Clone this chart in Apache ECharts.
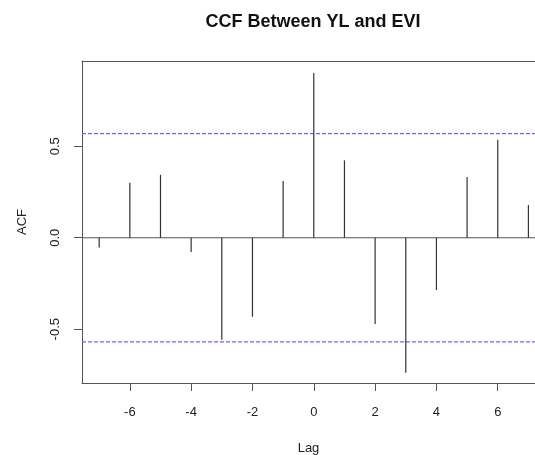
<!DOCTYPE html>
<html>
<head>
<meta charset="utf-8">
<script src="https://cdn.jsdelivr.net/npm/echarts@6/dist/echarts.min.js"></script>
<style>
  html, body { margin: 0; padding: 0; background: #fff; }
  #chart { width: 535px; height: 455px; }
</style>
</head>
<body>
<div id="chart"></div>
<script>
  // lags and cross-correlation values
  var lags = [-7, -6, -5, -4, -3, -2, -1, 0, 1, 2, 3, 4, 5, 6, 7];
  var ccfValues = [-0.053, 0.30, 0.344, -0.078, -0.557, -0.432, 0.31, 0.90, 0.423, -0.472, -0.738, -0.286, 0.332, 0.536, 0.179];
  var confLimits = [0.569, -0.569];
  var xTicks = [-6, -4, -2, 0, 2, 4, 6];
  var yTicks = [-0.5, 0, 0.5];
  var xRange = [-7.56, 7.215]; // box is cut off on the right in the original
  var yRange = [-0.794, 0.966];

  var font = 'Liberation Sans, Arial, sans-serif';
  var axisColor = '#555';
  var chart = echarts.init(document.getElementById('chart'));

  function hLine(y) {
    return [[xRange[0], y], [xRange[1], y]];
  }

  function guideSeries(y, style) {
    return {
      type: 'line',
      xAxisIndex: 0,
      data: hLine(y),
      showSymbol: false,
      silent: true,
      lineStyle: style,
      z: 1
    };
  }

  var options = {
    animation: false,
    title: {
      text: 'CCF Between YL and EVI',
      left: 308,
      textAlign: 'center',
      top: 8,
      textStyle: { fontFamily: font, fontSize: 18, fontWeight: 'bold', color: '#111' }
    },
    grid: {
      left: 82,
      top: 61,
      right: 0,
      bottom: 72,
      outerBoundsMode: 'none',
      show: false
    },
    xAxis: [{
      type: 'value',
      min: xRange[0],
      max: xRange[1],
      name: 'Lag',
      nameLocation: 'middle',
      nameGap: 59,
      nameTextStyle: { fontFamily: font, fontSize: 13, color: '#222' },
      splitLine: { show: false },
      axisLine: { show: true, onZero: false, lineStyle: { color: axisColor } },
      axisTick: { show: true, length: 8, customValues: xTicks, lineStyle: { color: axisColor } },
      axisLabel: {
        customValues: xTicks,
        margin: 23,
        fontFamily: font, fontSize: 13, color: '#222'
      }
    }, {
      // top edge of the box
      type: 'value',
      position: 'top',
      min: xRange[0],
      max: xRange[1],
      splitLine: { show: false },
      axisLine: { show: true, onZero: false, lineStyle: { color: axisColor } },
      axisTick: { show: false },
      axisLabel: { show: false }
    }],
    yAxis: {
      type: 'value',
      min: yRange[0],
      max: yRange[1],
      name: 'ACF',
      nameLocation: 'middle',
      nameGap: 53,
      nameRotate: 90,
      nameTextStyle: { fontFamily: font, fontSize: 13, color: '#222' },
      splitLine: { show: false },
      axisLine: { show: true, onZero: false, lineStyle: { color: axisColor } },
      axisTick: { show: true, length: 8, customValues: yTicks, lineStyle: { color: axisColor } },
      axisLabel: {
        customValues: yTicks,
        rotate: 90,
        margin: 20,
        fontFamily: font, fontSize: 13, color: '#222',
        formatter: function (v) { return v.toFixed(1); }
      }
    },
    series: [
      guideSeries(0, { type: 'solid', color: axisColor, width: 1.2 }),
      guideSeries(confLimits[0], { type: [4, 2], color: '#6666f2', width: 1.2 }),
      guideSeries(confLimits[1], { type: [4, 2], color: '#6666f2', width: 1.2 }),
      {
        type: 'custom',
        xAxisIndex: 0,
        z: 2,
        data: lags.map(function (l, i) { return [l, ccfValues[i]]; }),
        renderItem: function (params, api) {
          var p0 = api.coord([api.value(0), 0]);
          var p1 = api.coord([api.value(0), api.value(1)]);
          return {
            type: 'line',
            shape: { x1: p0[0], y1: p0[1], x2: p1[0], y2: p1[1] },
            style: { stroke: '#333', lineWidth: 1.2 }
          };
        }
      }
    ]
  };

  chart.setOption(options);
</script>
</body>
</html>
